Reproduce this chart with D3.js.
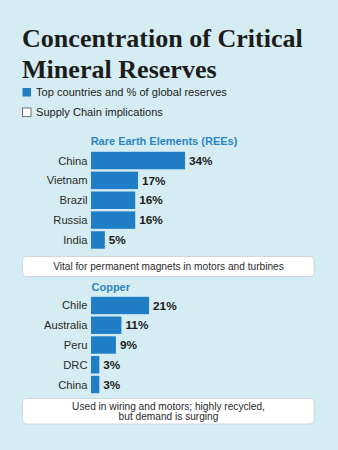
<!DOCTYPE html>
<html><head><meta charset="utf-8">
<script src="https://cdn.jsdelivr.net/npm/d3@7"></script>
<style>html,body{margin:0;padding:0;background:#d5edf2;}svg{display:block;}</style>
</head><body>
<script>
const titleLines = ["Concentration of Critical", "Mineral Reserves"];
const legendLabels = ["Top countries and % of global reserves", "Supply Chain implications"];
const reeTitle = "Rare Earth Elements (REEs)";
const reeCountries = ["China", "Vietnam", "Brazil", "Russia", "India"];
const reeValues = [34, 17, 16, 16, 5];
const reeNote = ["Vital for permanent magnets in motors and turbines"];
const cuTitle = "Copper";
const cuCountries = ["Chile", "Australia", "Peru", "DRC", "China"];
const cuValues = [21, 11, 9, 3, 3];
const cuNote = ["Used in wiring and motors; highly recycled,", "but demand is surging"];

const W = 338, H = 450;
const blue = "#1f7ec6", dark = "#1c1c1c", titleBlue = "#2b86c5";
const sans = "'Liberation Sans', Arimo, Helvetica, Arial, sans-serif";

const svg = d3.select("body").append("svg").attr("width", W).attr("height", H);
svg.append("rect").attr("width", W).attr("height", H).attr("fill", "#d5edf2");

function fit(sel, size, target) {
  sel.attr("font-size", size);
  const w = sel.node().getComputedTextLength();
  sel.attr("font-size", size * target / w);
  return size * target / w;
}

// Title
const tt = svg.append("g");
titleLines.forEach((t, i) => {
  tt.append("text").attr("x", 22).attr("y", 47 + i * 30.5)
    .attr("font-family", "'Liberation Serif', 'DejaVu Serif', serif")
    .attr("font-weight", 700).attr("font-size", 26).attr("fill", dark).text(t);
});
const fs = fit(tt.select("text"), 26, 281);
tt.selectAll("text").attr("font-size", fs);

// Legend
const lg = svg.append("g");
let lfs = 11;
legendLabels.forEach((t, i) => {
  const y = 88 + i * 20;
  lg.append("rect").attr("x", 22.5).attr("y", y).attr("width", 8.5).attr("height", 8.5)
    .attr("fill", i === 0 ? blue : "#fff").attr("stroke", i === 0 ? blue : "#555").attr("stroke-width", i === 0 ? 0 : 0.8);
  const tx = lg.append("text").attr("x", 36).attr("y", y + 8.3).attr("font-family", sans)
    .attr("fill", dark).text(t);
  if (i === 0) lfs = fit(tx, 11, 191); else tx.attr("font-size", lfs);
});

const x = d3.scaleLinear().domain([0, 34]).range([0, 94]);
const x0 = 91;

function section(title, titleAnchor, titleX, titleY, cats, vals, yTop, yBot, note, boxY, boxH, noteY, noteW) {
  const g = svg.append("g");
  g.append("text").attr("x", titleX).attr("y", titleY).attr("text-anchor", titleAnchor)
    .attr("font-family", sans).attr("font-weight", 700).attr("font-size", 11)
    .attr("fill", titleBlue).text(title);
  const y = d3.scaleBand().domain(cats).range([yTop, yBot]).paddingInner(0.12).paddingOuter(0.04);
  const data = cats.map((c, i) => ({c, v: vals[i]}));
  g.selectAll("rect.bar").data(data).join("rect").attr("class", "bar")
    .attr("x", x0).attr("y", d => y(d.c)).attr("width", d => x(d.v)).attr("height", y.bandwidth())
    .attr("fill", blue);
  g.selectAll("text.cat").data(data).join("text").attr("class", "cat")
    .attr("x", x0 - 3.5).attr("y", d => y(d.c) + y.bandwidth() / 2 + 4).attr("text-anchor", "end")
    .attr("font-family", sans).attr("font-size", 11.2).attr("fill", "#2a2a2a").text(d => d.c);
  g.selectAll("text.val").data(data).join("text").attr("class", "val")
    .attr("x", d => x0 + x(d.v) + 4).attr("y", d => y(d.c) + y.bandwidth() / 2 + 4.2)
    .attr("font-family", sans).attr("font-weight", 700).attr("font-size", 11.8).attr("fill", dark)
    .text(d => d.v + "%");
  g.append("rect").attr("x", 22.5).attr("y", boxY).attr("width", 291.5).attr("height", boxH)
    .attr("rx", 4).attr("fill", "#fff").attr("stroke", "#c8cfd3").attr("stroke-width", 0.8);
  let nfs = 10;
  note.forEach((t, i) => {
    const tx = g.append("text").attr("x", 168.5).attr("y", noteY + i * 10).attr("text-anchor", "middle")
      .attr("font-family", sans).attr("fill", "#2a2a2a").text(t);
    if (i === 0) nfs = fit(tx, 10, noteW); else tx.attr("font-size", nfs);
  });
}

section(reeTitle, "middle", 164, 144.5, reeCountries, reeValues, 151, 249.5, reeNote, 256.5, 20, 270, 231);
section(cuTitle, "start", 91.5, 290.5, cuCountries, cuValues, 296, 394, cuNote, 398.5, 25.5, 410, 193);
</script>
</body></html>
